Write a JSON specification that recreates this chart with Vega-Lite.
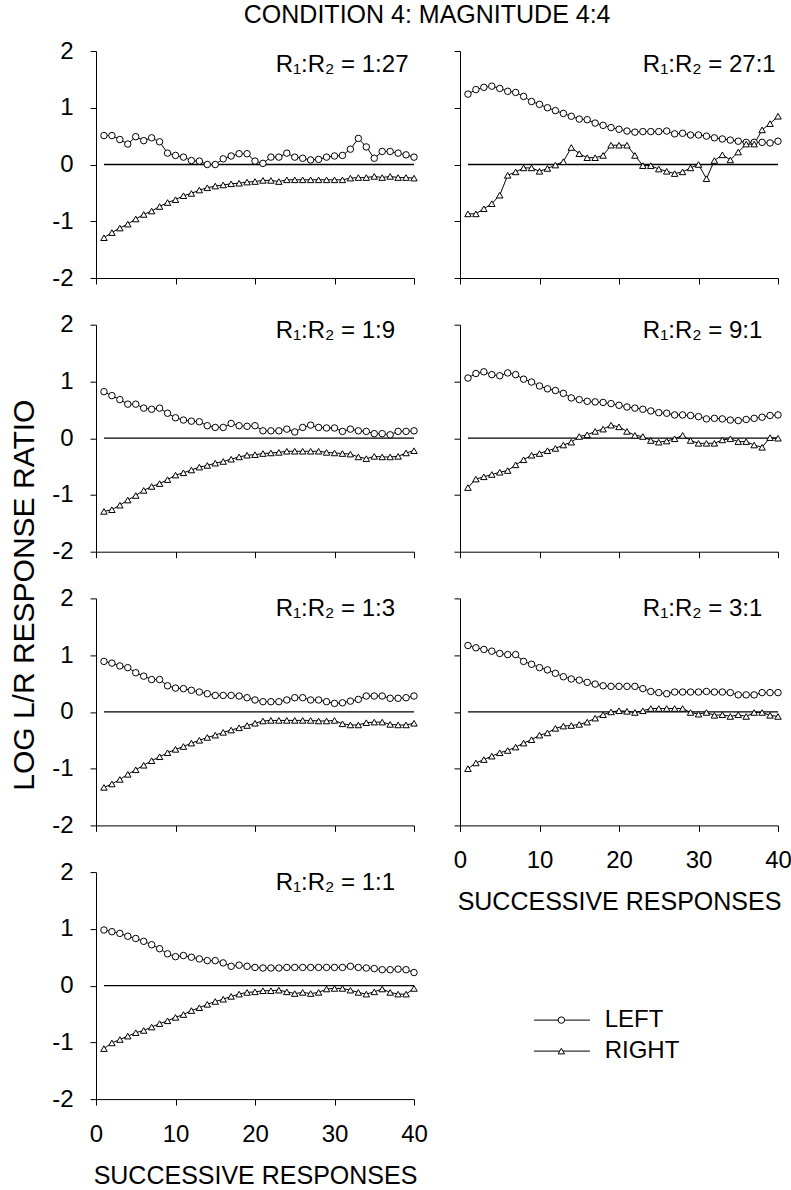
{
"$schema":"https://vega.github.io/schema/vega-lite/v6.json",
"padding":{"left":8,"top":3,"right":1,"bottom":1},
"title":{"text":"CONDITION 4: MAGNITUDE 4:4","fontSize":25,"fontWeight":"normal","color":"black","anchor":"middle","dx":27,"offset":11},
"config":{"font":"Liberation Sans","view":{"stroke":null},
 "axis":{"grid":false,"domainColor":"black","tickColor":"black","tickSize":6,"labelFontSize":24,"labelColor":"black","titleFontSize":25,"titleFontWeight":"normal","titleColor":"black","labelPadding":17,"domainWidth":1,"tickWidth":1,"labelFlush":false}},
"datasets":{"d":[
{"p":"1:27","s":"LEFT","x":1,"y":0.51},{"p":"1:27","s":"LEFT","x":2,"y":0.51},{"p":"1:27","s":"LEFT","x":3,"y":0.44},{"p":"1:27","s":"LEFT","x":4,"y":0.36},{"p":"1:27","s":"LEFT","x":5,"y":0.49},{"p":"1:27","s":"LEFT","x":6,"y":0.42},{"p":"1:27","s":"LEFT","x":7,"y":0.47},{"p":"1:27","s":"LEFT","x":8,"y":0.40},{"p":"1:27","s":"LEFT","x":9,"y":0.20},{"p":"1:27","s":"LEFT","x":10,"y":0.16},
{"p":"1:27","s":"LEFT","x":11,"y":0.13},{"p":"1:27","s":"LEFT","x":12,"y":0.07},{"p":"1:27","s":"LEFT","x":13,"y":0.06},{"p":"1:27","s":"LEFT","x":14,"y":0.0},{"p":"1:27","s":"LEFT","x":15,"y":0.0},{"p":"1:27","s":"LEFT","x":16,"y":0.10},{"p":"1:27","s":"LEFT","x":17,"y":0.15},{"p":"1:27","s":"LEFT","x":18,"y":0.19},{"p":"1:27","s":"LEFT","x":19,"y":0.19},{"p":"1:27","s":"LEFT","x":20,"y":0.06},
{"p":"1:27","s":"LEFT","x":21,"y":0.02},{"p":"1:27","s":"LEFT","x":22,"y":0.13},{"p":"1:27","s":"LEFT","x":23,"y":0.13},{"p":"1:27","s":"LEFT","x":24,"y":0.20},{"p":"1:27","s":"LEFT","x":25,"y":0.13},{"p":"1:27","s":"LEFT","x":26,"y":0.11},{"p":"1:27","s":"LEFT","x":27,"y":0.08},{"p":"1:27","s":"LEFT","x":28,"y":0.09},{"p":"1:27","s":"LEFT","x":29,"y":0.13},{"p":"1:27","s":"LEFT","x":30,"y":0.15},
{"p":"1:27","s":"LEFT","x":31,"y":0.16},{"p":"1:27","s":"LEFT","x":32,"y":0.27},{"p":"1:27","s":"LEFT","x":33,"y":0.46},{"p":"1:27","s":"LEFT","x":34,"y":0.31},{"p":"1:27","s":"LEFT","x":35,"y":0.11},{"p":"1:27","s":"LEFT","x":36,"y":0.23},{"p":"1:27","s":"LEFT","x":37,"y":0.23},{"p":"1:27","s":"LEFT","x":38,"y":0.20},{"p":"1:27","s":"LEFT","x":39,"y":0.17},{"p":"1:27","s":"LEFT","x":40,"y":0.13},
{"p":"1:27","s":"RIGHT","x":1,"y":-1.29},{"p":"1:27","s":"RIGHT","x":2,"y":-1.20},{"p":"1:27","s":"RIGHT","x":3,"y":-1.12},{"p":"1:27","s":"RIGHT","x":4,"y":-1.05},{"p":"1:27","s":"RIGHT","x":5,"y":-0.96},{"p":"1:27","s":"RIGHT","x":6,"y":-0.88},{"p":"1:27","s":"RIGHT","x":7,"y":-0.82},{"p":"1:27","s":"RIGHT","x":8,"y":-0.74},{"p":"1:27","s":"RIGHT","x":9,"y":-0.67},{"p":"1:27","s":"RIGHT","x":10,"y":-0.62},
{"p":"1:27","s":"RIGHT","x":11,"y":-0.55},{"p":"1:27","s":"RIGHT","x":12,"y":-0.51},{"p":"1:27","s":"RIGHT","x":13,"y":-0.45},{"p":"1:27","s":"RIGHT","x":14,"y":-0.41},{"p":"1:27","s":"RIGHT","x":15,"y":-0.38},{"p":"1:27","s":"RIGHT","x":16,"y":-0.36},{"p":"1:27","s":"RIGHT","x":17,"y":-0.34},{"p":"1:27","s":"RIGHT","x":18,"y":-0.33},{"p":"1:27","s":"RIGHT","x":19,"y":-0.31},{"p":"1:27","s":"RIGHT","x":20,"y":-0.30},
{"p":"1:27","s":"RIGHT","x":21,"y":-0.28},{"p":"1:27","s":"RIGHT","x":22,"y":-0.28},{"p":"1:27","s":"RIGHT","x":23,"y":-0.30},{"p":"1:27","s":"RIGHT","x":24,"y":-0.27},{"p":"1:27","s":"RIGHT","x":25,"y":-0.27},{"p":"1:27","s":"RIGHT","x":26,"y":-0.27},{"p":"1:27","s":"RIGHT","x":27,"y":-0.27},{"p":"1:27","s":"RIGHT","x":28,"y":-0.27},{"p":"1:27","s":"RIGHT","x":29,"y":-0.27},{"p":"1:27","s":"RIGHT","x":30,"y":-0.27},
{"p":"1:27","s":"RIGHT","x":31,"y":-0.27},{"p":"1:27","s":"RIGHT","x":32,"y":-0.24},{"p":"1:27","s":"RIGHT","x":33,"y":-0.23},{"p":"1:27","s":"RIGHT","x":34,"y":-0.23},{"p":"1:27","s":"RIGHT","x":35,"y":-0.21},{"p":"1:27","s":"RIGHT","x":36,"y":-0.23},{"p":"1:27","s":"RIGHT","x":37,"y":-0.21},{"p":"1:27","s":"RIGHT","x":38,"y":-0.23},{"p":"1:27","s":"RIGHT","x":39,"y":-0.23},{"p":"1:27","s":"RIGHT","x":40,"y":-0.24},

{"p":"27:1","s":"LEFT","x":1,"y":1.24},{"p":"27:1","s":"LEFT","x":2,"y":1.32},{"p":"27:1","s":"LEFT","x":3,"y":1.36},{"p":"27:1","s":"LEFT","x":4,"y":1.38},{"p":"27:1","s":"LEFT","x":5,"y":1.34},{"p":"27:1","s":"LEFT","x":6,"y":1.29},{"p":"27:1","s":"LEFT","x":7,"y":1.27},{"p":"27:1","s":"LEFT","x":8,"y":1.20},{"p":"27:1","s":"LEFT","x":9,"y":1.11},{"p":"27:1","s":"LEFT","x":10,"y":1.06},
{"p":"27:1","s":"LEFT","x":11,"y":1.00},{"p":"27:1","s":"LEFT","x":12,"y":0.95},{"p":"27:1","s":"LEFT","x":13,"y":0.90},{"p":"27:1","s":"LEFT","x":14,"y":0.85},{"p":"27:1","s":"LEFT","x":15,"y":0.80},{"p":"27:1","s":"LEFT","x":16,"y":0.79},{"p":"27:1","s":"LEFT","x":17,"y":0.73},{"p":"27:1","s":"LEFT","x":18,"y":0.69},{"p":"27:1","s":"LEFT","x":19,"y":0.65},{"p":"27:1","s":"LEFT","x":20,"y":0.62},
{"p":"27:1","s":"LEFT","x":21,"y":0.59},{"p":"27:1","s":"LEFT","x":22,"y":0.57},{"p":"27:1","s":"LEFT","x":23,"y":0.58},{"p":"27:1","s":"LEFT","x":24,"y":0.58},{"p":"27:1","s":"LEFT","x":25,"y":0.58},{"p":"27:1","s":"LEFT","x":26,"y":0.59},{"p":"27:1","s":"LEFT","x":27,"y":0.54},{"p":"27:1","s":"LEFT","x":28,"y":0.55},{"p":"27:1","s":"LEFT","x":29,"y":0.52},{"p":"27:1","s":"LEFT","x":30,"y":0.52},
{"p":"27:1","s":"LEFT","x":31,"y":0.50},{"p":"27:1","s":"LEFT","x":32,"y":0.47},{"p":"27:1","s":"LEFT","x":33,"y":0.45},{"p":"27:1","s":"LEFT","x":34,"y":0.43},{"p":"27:1","s":"LEFT","x":35,"y":0.41},{"p":"27:1","s":"LEFT","x":36,"y":0.39},{"p":"27:1","s":"LEFT","x":37,"y":0.39},{"p":"27:1","s":"LEFT","x":38,"y":0.39},{"p":"27:1","s":"LEFT","x":39,"y":0.38},{"p":"27:1","s":"LEFT","x":40,"y":0.41},
{"p":"27:1","s":"RIGHT","x":1,"y":-0.87},{"p":"27:1","s":"RIGHT","x":2,"y":-0.87},{"p":"27:1","s":"RIGHT","x":3,"y":-0.78},{"p":"27:1","s":"RIGHT","x":4,"y":-0.69},{"p":"27:1","s":"RIGHT","x":5,"y":-0.54},{"p":"27:1","s":"RIGHT","x":6,"y":-0.19},{"p":"27:1","s":"RIGHT","x":7,"y":-0.13},{"p":"27:1","s":"RIGHT","x":8,"y":-0.06},{"p":"27:1","s":"RIGHT","x":9,"y":-0.06},{"p":"27:1","s":"RIGHT","x":10,"y":-0.12},
{"p":"27:1","s":"RIGHT","x":11,"y":-0.07},{"p":"27:1","s":"RIGHT","x":12,"y":-0.01},{"p":"27:1","s":"RIGHT","x":13,"y":0.05},{"p":"27:1","s":"RIGHT","x":14,"y":0.30},{"p":"27:1","s":"RIGHT","x":15,"y":0.19},{"p":"27:1","s":"RIGHT","x":16,"y":0.12},{"p":"27:1","s":"RIGHT","x":17,"y":0.12},{"p":"27:1","s":"RIGHT","x":18,"y":0.16},{"p":"27:1","s":"RIGHT","x":19,"y":0.34},{"p":"27:1","s":"RIGHT","x":20,"y":0.34},
{"p":"27:1","s":"RIGHT","x":21,"y":0.34},{"p":"27:1","s":"RIGHT","x":22,"y":0.16},{"p":"27:1","s":"RIGHT","x":23,"y":-0.02},{"p":"27:1","s":"RIGHT","x":24,"y":-0.02},{"p":"27:1","s":"RIGHT","x":25,"y":-0.08},{"p":"27:1","s":"RIGHT","x":26,"y":-0.12},{"p":"27:1","s":"RIGHT","x":27,"y":-0.16},{"p":"27:1","s":"RIGHT","x":28,"y":-0.13},{"p":"27:1","s":"RIGHT","x":29,"y":-0.06},{"p":"27:1","s":"RIGHT","x":30,"y":0.0},
{"p":"27:1","s":"RIGHT","x":31,"y":-0.25},{"p":"27:1","s":"RIGHT","x":32,"y":0.07},{"p":"27:1","s":"RIGHT","x":33,"y":0.17},{"p":"27:1","s":"RIGHT","x":34,"y":0.08},{"p":"27:1","s":"RIGHT","x":35,"y":0.22},{"p":"27:1","s":"RIGHT","x":36,"y":0.36},{"p":"27:1","s":"RIGHT","x":37,"y":0.36},{"p":"27:1","s":"RIGHT","x":38,"y":0.61},{"p":"27:1","s":"RIGHT","x":39,"y":0.72},{"p":"27:1","s":"RIGHT","x":40,"y":0.85},

{"p":"1:9","s":"LEFT","x":1,"y":0.82},{"p":"1:9","s":"LEFT","x":2,"y":0.75},{"p":"1:9","s":"LEFT","x":3,"y":0.68},{"p":"1:9","s":"LEFT","x":4,"y":0.60},{"p":"1:9","s":"LEFT","x":5,"y":0.60},{"p":"1:9","s":"LEFT","x":6,"y":0.53},{"p":"1:9","s":"LEFT","x":7,"y":0.51},{"p":"1:9","s":"LEFT","x":8,"y":0.53},{"p":"1:9","s":"LEFT","x":9,"y":0.44},{"p":"1:9","s":"LEFT","x":10,"y":0.36},
{"p":"1:9","s":"LEFT","x":11,"y":0.32},{"p":"1:9","s":"LEFT","x":12,"y":0.30},{"p":"1:9","s":"LEFT","x":13,"y":0.29},{"p":"1:9","s":"LEFT","x":14,"y":0.22},{"p":"1:9","s":"LEFT","x":15,"y":0.19},{"p":"1:9","s":"LEFT","x":16,"y":0.19},{"p":"1:9","s":"LEFT","x":17,"y":0.26},{"p":"1:9","s":"LEFT","x":18,"y":0.22},{"p":"1:9","s":"LEFT","x":19,"y":0.21},{"p":"1:9","s":"LEFT","x":20,"y":0.22},
{"p":"1:9","s":"LEFT","x":21,"y":0.13},{"p":"1:9","s":"LEFT","x":22,"y":0.13},{"p":"1:9","s":"LEFT","x":23,"y":0.13},{"p":"1:9","s":"LEFT","x":24,"y":0.16},{"p":"1:9","s":"LEFT","x":25,"y":0.11},{"p":"1:9","s":"LEFT","x":26,"y":0.19},{"p":"1:9","s":"LEFT","x":27,"y":0.23},{"p":"1:9","s":"LEFT","x":28,"y":0.19},{"p":"1:9","s":"LEFT","x":29,"y":0.18},{"p":"1:9","s":"LEFT","x":30,"y":0.18},
{"p":"1:9","s":"LEFT","x":31,"y":0.12},{"p":"1:9","s":"LEFT","x":32,"y":0.16},{"p":"1:9","s":"LEFT","x":33,"y":0.13},{"p":"1:9","s":"LEFT","x":34,"y":0.12},{"p":"1:9","s":"LEFT","x":35,"y":0.08},{"p":"1:9","s":"LEFT","x":36,"y":0.08},{"p":"1:9","s":"LEFT","x":37,"y":0.06},{"p":"1:9","s":"LEFT","x":38,"y":0.12},{"p":"1:9","s":"LEFT","x":39,"y":0.12},{"p":"1:9","s":"LEFT","x":40,"y":0.13},
{"p":"1:9","s":"RIGHT","x":1,"y":-1.29},{"p":"1:9","s":"RIGHT","x":2,"y":-1.26},{"p":"1:9","s":"RIGHT","x":3,"y":-1.18},{"p":"1:9","s":"RIGHT","x":4,"y":-1.09},{"p":"1:9","s":"RIGHT","x":5,"y":-1.01},{"p":"1:9","s":"RIGHT","x":6,"y":-0.92},{"p":"1:9","s":"RIGHT","x":7,"y":-0.85},{"p":"1:9","s":"RIGHT","x":8,"y":-0.80},{"p":"1:9","s":"RIGHT","x":9,"y":-0.73},{"p":"1:9","s":"RIGHT","x":10,"y":-0.65},
{"p":"1:9","s":"RIGHT","x":11,"y":-0.61},{"p":"1:9","s":"RIGHT","x":12,"y":-0.56},{"p":"1:9","s":"RIGHT","x":13,"y":-0.51},{"p":"1:9","s":"RIGHT","x":14,"y":-0.48},{"p":"1:9","s":"RIGHT","x":15,"y":-0.44},{"p":"1:9","s":"RIGHT","x":16,"y":-0.41},{"p":"1:9","s":"RIGHT","x":17,"y":-0.37},{"p":"1:9","s":"RIGHT","x":18,"y":-0.33},{"p":"1:9","s":"RIGHT","x":19,"y":-0.30},{"p":"1:9","s":"RIGHT","x":20,"y":-0.29},
{"p":"1:9","s":"RIGHT","x":21,"y":-0.27},{"p":"1:9","s":"RIGHT","x":22,"y":-0.26},{"p":"1:9","s":"RIGHT","x":23,"y":-0.25},{"p":"1:9","s":"RIGHT","x":24,"y":-0.23},{"p":"1:9","s":"RIGHT","x":25,"y":-0.23},{"p":"1:9","s":"RIGHT","x":26,"y":-0.23},{"p":"1:9","s":"RIGHT","x":27,"y":-0.23},{"p":"1:9","s":"RIGHT","x":28,"y":-0.23},{"p":"1:9","s":"RIGHT","x":29,"y":-0.25},{"p":"1:9","s":"RIGHT","x":30,"y":-0.26},
{"p":"1:9","s":"RIGHT","x":31,"y":-0.27},{"p":"1:9","s":"RIGHT","x":32,"y":-0.28},{"p":"1:9","s":"RIGHT","x":33,"y":-0.33},{"p":"1:9","s":"RIGHT","x":34,"y":-0.36},{"p":"1:9","s":"RIGHT","x":35,"y":-0.32},{"p":"1:9","s":"RIGHT","x":36,"y":-0.33},{"p":"1:9","s":"RIGHT","x":37,"y":-0.33},{"p":"1:9","s":"RIGHT","x":38,"y":-0.32},{"p":"1:9","s":"RIGHT","x":39,"y":-0.26},{"p":"1:9","s":"RIGHT","x":40,"y":-0.22},

{"p":"9:1","s":"LEFT","x":1,"y":1.06},{"p":"9:1","s":"LEFT","x":2,"y":1.14},{"p":"9:1","s":"LEFT","x":3,"y":1.17},{"p":"9:1","s":"LEFT","x":4,"y":1.12},{"p":"9:1","s":"LEFT","x":5,"y":1.10},{"p":"9:1","s":"LEFT","x":6,"y":1.15},{"p":"9:1","s":"LEFT","x":7,"y":1.12},{"p":"9:1","s":"LEFT","x":8,"y":1.04},{"p":"9:1","s":"LEFT","x":9,"y":0.99},{"p":"9:1","s":"LEFT","x":10,"y":0.92},
{"p":"9:1","s":"LEFT","x":11,"y":0.87},{"p":"9:1","s":"LEFT","x":12,"y":0.84},{"p":"9:1","s":"LEFT","x":13,"y":0.79},{"p":"9:1","s":"LEFT","x":14,"y":0.71},{"p":"9:1","s":"LEFT","x":15,"y":0.68},{"p":"9:1","s":"LEFT","x":16,"y":0.65},{"p":"9:1","s":"LEFT","x":17,"y":0.64},{"p":"9:1","s":"LEFT","x":18,"y":0.63},{"p":"9:1","s":"LEFT","x":19,"y":0.61},{"p":"9:1","s":"LEFT","x":20,"y":0.58},
{"p":"9:1","s":"LEFT","x":21,"y":0.55},{"p":"9:1","s":"LEFT","x":22,"y":0.53},{"p":"9:1","s":"LEFT","x":23,"y":0.51},{"p":"9:1","s":"LEFT","x":24,"y":0.48},{"p":"9:1","s":"LEFT","x":25,"y":0.45},{"p":"9:1","s":"LEFT","x":26,"y":0.44},{"p":"9:1","s":"LEFT","x":27,"y":0.41},{"p":"9:1","s":"LEFT","x":28,"y":0.41},{"p":"9:1","s":"LEFT","x":29,"y":0.40},{"p":"9:1","s":"LEFT","x":30,"y":0.38},
{"p":"9:1","s":"LEFT","x":31,"y":0.34},{"p":"9:1","s":"LEFT","x":32,"y":0.35},{"p":"9:1","s":"LEFT","x":33,"y":0.34},{"p":"9:1","s":"LEFT","x":34,"y":0.32},{"p":"9:1","s":"LEFT","x":35,"y":0.31},{"p":"9:1","s":"LEFT","x":36,"y":0.33},{"p":"9:1","s":"LEFT","x":37,"y":0.35},{"p":"9:1","s":"LEFT","x":38,"y":0.37},{"p":"9:1","s":"LEFT","x":39,"y":0.40},{"p":"9:1","s":"LEFT","x":40,"y":0.41},
{"p":"9:1","s":"RIGHT","x":1,"y":-0.87},{"p":"9:1","s":"RIGHT","x":2,"y":-0.72},{"p":"9:1","s":"RIGHT","x":3,"y":-0.68},{"p":"9:1","s":"RIGHT","x":4,"y":-0.64},{"p":"9:1","s":"RIGHT","x":5,"y":-0.60},{"p":"9:1","s":"RIGHT","x":6,"y":-0.57},{"p":"9:1","s":"RIGHT","x":7,"y":-0.47},{"p":"9:1","s":"RIGHT","x":8,"y":-0.38},{"p":"9:1","s":"RIGHT","x":9,"y":-0.30},{"p":"9:1","s":"RIGHT","x":10,"y":-0.27},
{"p":"9:1","s":"RIGHT","x":11,"y":-0.22},{"p":"9:1","s":"RIGHT","x":12,"y":-0.18},{"p":"9:1","s":"RIGHT","x":13,"y":-0.12},{"p":"9:1","s":"RIGHT","x":14,"y":-0.07},{"p":"9:1","s":"RIGHT","x":15,"y":0.03},{"p":"9:1","s":"RIGHT","x":16,"y":0.06},{"p":"9:1","s":"RIGHT","x":17,"y":0.12},{"p":"9:1","s":"RIGHT","x":18,"y":0.16},{"p":"9:1","s":"RIGHT","x":19,"y":0.23},{"p":"9:1","s":"RIGHT","x":20,"y":0.20},
{"p":"9:1","s":"RIGHT","x":21,"y":0.12},{"p":"9:1","s":"RIGHT","x":22,"y":0.05},{"p":"9:1","s":"RIGHT","x":23,"y":0.03},{"p":"9:1","s":"RIGHT","x":24,"y":-0.04},{"p":"9:1","s":"RIGHT","x":25,"y":-0.07},{"p":"9:1","s":"RIGHT","x":26,"y":-0.05},{"p":"9:1","s":"RIGHT","x":27,"y":-0.01},{"p":"9:1","s":"RIGHT","x":28,"y":0.05},{"p":"9:1","s":"RIGHT","x":29,"y":-0.04},{"p":"9:1","s":"RIGHT","x":30,"y":-0.09},
{"p":"9:1","s":"RIGHT","x":31,"y":-0.09},{"p":"9:1","s":"RIGHT","x":32,"y":-0.09},{"p":"9:1","s":"RIGHT","x":33,"y":-0.03},{"p":"9:1","s":"RIGHT","x":34,"y":-0.01},{"p":"9:1","s":"RIGHT","x":35,"y":-0.06},{"p":"9:1","s":"RIGHT","x":36,"y":-0.06},{"p":"9:1","s":"RIGHT","x":37,"y":-0.12},{"p":"9:1","s":"RIGHT","x":38,"y":-0.16},{"p":"9:1","s":"RIGHT","x":39,"y":0.01},{"p":"9:1","s":"RIGHT","x":40,"y":0.0},

{"p":"1:3","s":"LEFT","x":1,"y":0.89},{"p":"1:3","s":"LEFT","x":2,"y":0.86},{"p":"1:3","s":"LEFT","x":3,"y":0.81},{"p":"1:3","s":"LEFT","x":4,"y":0.78},{"p":"1:3","s":"LEFT","x":5,"y":0.69},{"p":"1:3","s":"LEFT","x":6,"y":0.63},{"p":"1:3","s":"LEFT","x":7,"y":0.57},{"p":"1:3","s":"LEFT","x":8,"y":0.57},{"p":"1:3","s":"LEFT","x":9,"y":0.46},{"p":"1:3","s":"LEFT","x":10,"y":0.42},
{"p":"1:3","s":"LEFT","x":11,"y":0.41},{"p":"1:3","s":"LEFT","x":12,"y":0.38},{"p":"1:3","s":"LEFT","x":13,"y":0.35},{"p":"1:3","s":"LEFT","x":14,"y":0.32},{"p":"1:3","s":"LEFT","x":15,"y":0.29},{"p":"1:3","s":"LEFT","x":16,"y":0.29},{"p":"1:3","s":"LEFT","x":17,"y":0.29},{"p":"1:3","s":"LEFT","x":18,"y":0.28},{"p":"1:3","s":"LEFT","x":19,"y":0.25},{"p":"1:3","s":"LEFT","x":20,"y":0.21},
{"p":"1:3","s":"LEFT","x":21,"y":0.18},{"p":"1:3","s":"LEFT","x":22,"y":0.18},{"p":"1:3","s":"LEFT","x":23,"y":0.18},{"p":"1:3","s":"LEFT","x":24,"y":0.21},{"p":"1:3","s":"LEFT","x":25,"y":0.25},{"p":"1:3","s":"LEFT","x":26,"y":0.25},{"p":"1:3","s":"LEFT","x":27,"y":0.21},{"p":"1:3","s":"LEFT","x":28,"y":0.21},{"p":"1:3","s":"LEFT","x":29,"y":0.18},{"p":"1:3","s":"LEFT","x":30,"y":0.15},
{"p":"1:3","s":"LEFT","x":31,"y":0.16},{"p":"1:3","s":"LEFT","x":32,"y":0.19},{"p":"1:3","s":"LEFT","x":33,"y":0.22},{"p":"1:3","s":"LEFT","x":34,"y":0.28},{"p":"1:3","s":"LEFT","x":35,"y":0.28},{"p":"1:3","s":"LEFT","x":36,"y":0.28},{"p":"1:3","s":"LEFT","x":37,"y":0.24},{"p":"1:3","s":"LEFT","x":38,"y":0.24},{"p":"1:3","s":"LEFT","x":39,"y":0.25},{"p":"1:3","s":"LEFT","x":40,"y":0.28},
{"p":"1:3","s":"RIGHT","x":1,"y":-1.33},{"p":"1:3","s":"RIGHT","x":2,"y":-1.27},{"p":"1:3","s":"RIGHT","x":3,"y":-1.19},{"p":"1:3","s":"RIGHT","x":4,"y":-1.10},{"p":"1:3","s":"RIGHT","x":5,"y":-1.02},{"p":"1:3","s":"RIGHT","x":6,"y":-0.94},{"p":"1:3","s":"RIGHT","x":7,"y":-0.86},{"p":"1:3","s":"RIGHT","x":8,"y":-0.79},{"p":"1:3","s":"RIGHT","x":9,"y":-0.72},{"p":"1:3","s":"RIGHT","x":10,"y":-0.66},
{"p":"1:3","s":"RIGHT","x":11,"y":-0.61},{"p":"1:3","s":"RIGHT","x":12,"y":-0.55},{"p":"1:3","s":"RIGHT","x":13,"y":-0.50},{"p":"1:3","s":"RIGHT","x":14,"y":-0.45},{"p":"1:3","s":"RIGHT","x":15,"y":-0.41},{"p":"1:3","s":"RIGHT","x":16,"y":-0.36},{"p":"1:3","s":"RIGHT","x":17,"y":-0.32},{"p":"1:3","s":"RIGHT","x":18,"y":-0.28},{"p":"1:3","s":"RIGHT","x":19,"y":-0.24},{"p":"1:3","s":"RIGHT","x":20,"y":-0.20},
{"p":"1:3","s":"RIGHT","x":21,"y":-0.16},{"p":"1:3","s":"RIGHT","x":22,"y":-0.15},{"p":"1:3","s":"RIGHT","x":23,"y":-0.15},{"p":"1:3","s":"RIGHT","x":24,"y":-0.15},{"p":"1:3","s":"RIGHT","x":25,"y":-0.15},{"p":"1:3","s":"RIGHT","x":26,"y":-0.15},{"p":"1:3","s":"RIGHT","x":27,"y":-0.15},{"p":"1:3","s":"RIGHT","x":28,"y":-0.16},{"p":"1:3","s":"RIGHT","x":29,"y":-0.16},{"p":"1:3","s":"RIGHT","x":30,"y":-0.15},
{"p":"1:3","s":"RIGHT","x":31,"y":-0.21},{"p":"1:3","s":"RIGHT","x":32,"y":-0.23},{"p":"1:3","s":"RIGHT","x":33,"y":-0.23},{"p":"1:3","s":"RIGHT","x":34,"y":-0.19},{"p":"1:3","s":"RIGHT","x":35,"y":-0.18},{"p":"1:3","s":"RIGHT","x":36,"y":-0.18},{"p":"1:3","s":"RIGHT","x":37,"y":-0.22},{"p":"1:3","s":"RIGHT","x":38,"y":-0.23},{"p":"1:3","s":"RIGHT","x":39,"y":-0.23},{"p":"1:3","s":"RIGHT","x":40,"y":-0.20},

{"p":"3:1","s":"LEFT","x":1,"y":1.17},{"p":"3:1","s":"LEFT","x":2,"y":1.13},{"p":"3:1","s":"LEFT","x":3,"y":1.10},{"p":"3:1","s":"LEFT","x":4,"y":1.07},{"p":"3:1","s":"LEFT","x":5,"y":1.03},{"p":"3:1","s":"LEFT","x":6,"y":1.01},{"p":"3:1","s":"LEFT","x":7,"y":1.01},{"p":"3:1","s":"LEFT","x":8,"y":0.89},{"p":"3:1","s":"LEFT","x":9,"y":0.84},{"p":"3:1","s":"LEFT","x":10,"y":0.78},
{"p":"3:1","s":"LEFT","x":11,"y":0.74},{"p":"3:1","s":"LEFT","x":12,"y":0.68},{"p":"3:1","s":"LEFT","x":13,"y":0.62},{"p":"3:1","s":"LEFT","x":14,"y":0.58},{"p":"3:1","s":"LEFT","x":15,"y":0.56},{"p":"3:1","s":"LEFT","x":16,"y":0.52},{"p":"3:1","s":"LEFT","x":17,"y":0.49},{"p":"3:1","s":"LEFT","x":18,"y":0.46},{"p":"3:1","s":"LEFT","x":19,"y":0.45},{"p":"3:1","s":"LEFT","x":20,"y":0.45},
{"p":"3:1","s":"LEFT","x":21,"y":0.45},{"p":"3:1","s":"LEFT","x":22,"y":0.45},{"p":"3:1","s":"LEFT","x":23,"y":0.41},{"p":"3:1","s":"LEFT","x":24,"y":0.36},{"p":"3:1","s":"LEFT","x":25,"y":0.34},{"p":"3:1","s":"LEFT","x":26,"y":0.32},{"p":"3:1","s":"LEFT","x":27,"y":0.35},{"p":"3:1","s":"LEFT","x":28,"y":0.35},{"p":"3:1","s":"LEFT","x":29,"y":0.35},{"p":"3:1","s":"LEFT","x":30,"y":0.35},
{"p":"3:1","s":"LEFT","x":31,"y":0.36},{"p":"3:1","s":"LEFT","x":32,"y":0.35},{"p":"3:1","s":"LEFT","x":33,"y":0.35},{"p":"3:1","s":"LEFT","x":34,"y":0.34},{"p":"3:1","s":"LEFT","x":35,"y":0.30},{"p":"3:1","s":"LEFT","x":36,"y":0.30},{"p":"3:1","s":"LEFT","x":37,"y":0.30},{"p":"3:1","s":"LEFT","x":38,"y":0.34},{"p":"3:1","s":"LEFT","x":39,"y":0.34},{"p":"3:1","s":"LEFT","x":40,"y":0.34},
{"p":"3:1","s":"RIGHT","x":1,"y":-1.00},{"p":"3:1","s":"RIGHT","x":2,"y":-0.90},{"p":"3:1","s":"RIGHT","x":3,"y":-0.84},{"p":"3:1","s":"RIGHT","x":4,"y":-0.78},{"p":"3:1","s":"RIGHT","x":5,"y":-0.72},{"p":"3:1","s":"RIGHT","x":6,"y":-0.68},{"p":"3:1","s":"RIGHT","x":7,"y":-0.62},{"p":"3:1","s":"RIGHT","x":8,"y":-0.55},{"p":"3:1","s":"RIGHT","x":9,"y":-0.49},{"p":"3:1","s":"RIGHT","x":10,"y":-0.41},
{"p":"3:1","s":"RIGHT","x":11,"y":-0.37},{"p":"3:1","s":"RIGHT","x":12,"y":-0.29},{"p":"3:1","s":"RIGHT","x":13,"y":-0.25},{"p":"3:1","s":"RIGHT","x":14,"y":-0.24},{"p":"3:1","s":"RIGHT","x":15,"y":-0.22},{"p":"3:1","s":"RIGHT","x":16,"y":-0.18},{"p":"3:1","s":"RIGHT","x":17,"y":-0.11},{"p":"3:1","s":"RIGHT","x":18,"y":-0.05},{"p":"3:1","s":"RIGHT","x":19,"y":0.0},{"p":"3:1","s":"RIGHT","x":20,"y":0.02},
{"p":"3:1","s":"RIGHT","x":21,"y":0.01},{"p":"3:1","s":"RIGHT","x":22,"y":-0.01},{"p":"3:1","s":"RIGHT","x":23,"y":0.02},{"p":"3:1","s":"RIGHT","x":24,"y":0.06},{"p":"3:1","s":"RIGHT","x":25,"y":0.06},{"p":"3:1","s":"RIGHT","x":26,"y":0.06},{"p":"3:1","s":"RIGHT","x":27,"y":0.06},{"p":"3:1","s":"RIGHT","x":28,"y":0.06},{"p":"3:1","s":"RIGHT","x":29,"y":-0.01},{"p":"3:1","s":"RIGHT","x":30,"y":-0.04},
{"p":"3:1","s":"RIGHT","x":31,"y":-0.01},{"p":"3:1","s":"RIGHT","x":32,"y":-0.06},{"p":"3:1","s":"RIGHT","x":33,"y":-0.05},{"p":"3:1","s":"RIGHT","x":34,"y":-0.08},{"p":"3:1","s":"RIGHT","x":35,"y":-0.05},{"p":"3:1","s":"RIGHT","x":36,"y":-0.08},{"p":"3:1","s":"RIGHT","x":37,"y":-0.01},{"p":"3:1","s":"RIGHT","x":38,"y":-0.01},{"p":"3:1","s":"RIGHT","x":39,"y":-0.06},{"p":"3:1","s":"RIGHT","x":40,"y":-0.08},

{"p":"1:1","s":"LEFT","x":1,"y":0.98},{"p":"1:1","s":"LEFT","x":2,"y":0.95},{"p":"1:1","s":"LEFT","x":3,"y":0.92},{"p":"1:1","s":"LEFT","x":4,"y":0.87},{"p":"1:1","s":"LEFT","x":5,"y":0.83},{"p":"1:1","s":"LEFT","x":6,"y":0.78},{"p":"1:1","s":"LEFT","x":7,"y":0.72},{"p":"1:1","s":"LEFT","x":8,"y":0.65},{"p":"1:1","s":"LEFT","x":9,"y":0.56},{"p":"1:1","s":"LEFT","x":10,"y":0.51},
{"p":"1:1","s":"LEFT","x":11,"y":0.53},{"p":"1:1","s":"LEFT","x":12,"y":0.50},{"p":"1:1","s":"LEFT","x":13,"y":0.47},{"p":"1:1","s":"LEFT","x":14,"y":0.44},{"p":"1:1","s":"LEFT","x":15,"y":0.44},{"p":"1:1","s":"LEFT","x":16,"y":0.40},{"p":"1:1","s":"LEFT","x":17,"y":0.34},{"p":"1:1","s":"LEFT","x":18,"y":0.36},{"p":"1:1","s":"LEFT","x":19,"y":0.34},{"p":"1:1","s":"LEFT","x":20,"y":0.32},
{"p":"1:1","s":"LEFT","x":21,"y":0.31},{"p":"1:1","s":"LEFT","x":22,"y":0.31},{"p":"1:1","s":"LEFT","x":23,"y":0.31},{"p":"1:1","s":"LEFT","x":24,"y":0.32},{"p":"1:1","s":"LEFT","x":25,"y":0.32},{"p":"1:1","s":"LEFT","x":26,"y":0.32},{"p":"1:1","s":"LEFT","x":27,"y":0.32},{"p":"1:1","s":"LEFT","x":28,"y":0.32},{"p":"1:1","s":"LEFT","x":29,"y":0.32},{"p":"1:1","s":"LEFT","x":30,"y":0.32},
{"p":"1:1","s":"LEFT","x":31,"y":0.32},{"p":"1:1","s":"LEFT","x":32,"y":0.34},{"p":"1:1","s":"LEFT","x":33,"y":0.32},{"p":"1:1","s":"LEFT","x":34,"y":0.31},{"p":"1:1","s":"LEFT","x":35,"y":0.30},{"p":"1:1","s":"LEFT","x":36,"y":0.28},{"p":"1:1","s":"LEFT","x":37,"y":0.28},{"p":"1:1","s":"LEFT","x":38,"y":0.29},{"p":"1:1","s":"LEFT","x":39,"y":0.28},{"p":"1:1","s":"LEFT","x":40,"y":0.23},
{"p":"1:1","s":"RIGHT","x":1,"y":-1.11},{"p":"1:1","s":"RIGHT","x":2,"y":-1.01},{"p":"1:1","s":"RIGHT","x":3,"y":-0.95},{"p":"1:1","s":"RIGHT","x":4,"y":-0.89},{"p":"1:1","s":"RIGHT","x":5,"y":-0.83},{"p":"1:1","s":"RIGHT","x":6,"y":-0.79},{"p":"1:1","s":"RIGHT","x":7,"y":-0.73},{"p":"1:1","s":"RIGHT","x":8,"y":-0.67},{"p":"1:1","s":"RIGHT","x":9,"y":-0.62},{"p":"1:1","s":"RIGHT","x":10,"y":-0.56},
{"p":"1:1","s":"RIGHT","x":11,"y":-0.51},{"p":"1:1","s":"RIGHT","x":12,"y":-0.44},{"p":"1:1","s":"RIGHT","x":13,"y":-0.39},{"p":"1:1","s":"RIGHT","x":14,"y":-0.33},{"p":"1:1","s":"RIGHT","x":15,"y":-0.28},{"p":"1:1","s":"RIGHT","x":16,"y":-0.24},{"p":"1:1","s":"RIGHT","x":17,"y":-0.19},{"p":"1:1","s":"RIGHT","x":18,"y":-0.15},{"p":"1:1","s":"RIGHT","x":19,"y":-0.12},{"p":"1:1","s":"RIGHT","x":20,"y":-0.11},
{"p":"1:1","s":"RIGHT","x":21,"y":-0.09},{"p":"1:1","s":"RIGHT","x":22,"y":-0.09},{"p":"1:1","s":"RIGHT","x":23,"y":-0.08},{"p":"1:1","s":"RIGHT","x":24,"y":-0.11},{"p":"1:1","s":"RIGHT","x":25,"y":-0.14},{"p":"1:1","s":"RIGHT","x":26,"y":-0.12},{"p":"1:1","s":"RIGHT","x":27,"y":-0.14},{"p":"1:1","s":"RIGHT","x":28,"y":-0.12},{"p":"1:1","s":"RIGHT","x":29,"y":-0.06},{"p":"1:1","s":"RIGHT","x":30,"y":-0.05},
{"p":"1:1","s":"RIGHT","x":31,"y":-0.05},{"p":"1:1","s":"RIGHT","x":32,"y":-0.08},{"p":"1:1","s":"RIGHT","x":33,"y":-0.12},{"p":"1:1","s":"RIGHT","x":34,"y":-0.15},{"p":"1:1","s":"RIGHT","x":35,"y":-0.11},{"p":"1:1","s":"RIGHT","x":36,"y":-0.06},{"p":"1:1","s":"RIGHT","x":37,"y":-0.12},{"p":"1:1","s":"RIGHT","x":38,"y":-0.15},{"p":"1:1","s":"RIGHT","x":39,"y":-0.15},{"p":"1:1","s":"RIGHT","x":40,"y":-0.05}
]},
"spacing":25,
"hconcat":[
 {"bounds":"flush","spacing":46.7,"vconcat":[
  {"width":318,"height":227,"layer":[
   {"data":{"values":[{}]},"mark":{"type":"rule","color":"black","strokeWidth":1.3},"encoding":{"x":{"datum":1},"x2":{"datum":40},"y":{"datum":0}}},
   {"data":{"name":"d"},"transform":[{"filter":"datum.p === '1:27'"}],
    "encoding":{"x":{"field":"x","type":"quantitative","scale":{"domain":[0,40],"nice":false},"axis":{"values":[0,10,20,30,40],"labels":false,"title":null}},
                "y":{"field":"y","type":"quantitative","scale":{"domain":[-2,2],"nice":false},"axis":{"values":[-2,-1,0,1,2],"format":"d","title":null,"labelExpr":"replace(datum.label,'\u2212','-')"}}},
    "layer":[
     {"mark":{"type":"line","color":"black","strokeWidth":1},"encoding":{"detail":{"field":"s"}}},
     {"mark":{"type":"point","filled":true,"fill":"white","stroke":"black","strokeWidth":1,"opacity":1,"size":42},"encoding":{"shape":{"field":"s","type":"nominal","scale":{"domain":["LEFT","RIGHT"],"range":["circle","triangle-up"]},"legend":null}}}
    ]},
   {"data":{"values":[{"t":"R₁:R₂ = 1:27"}]},"mark":{"type":"text","align":"left","baseline":"alphabetic","fontSize":24,"color":"black"},"encoding":{"x":{"datum":22.6},"y":{"datum":1.63},"text":{"field":"t"}}}
  ]},
  {"width":318,"height":227,"layer":[
   {"data":{"values":[{}]},"mark":{"type":"rule","color":"black","strokeWidth":1.3},"encoding":{"x":{"datum":1},"x2":{"datum":40},"y":{"datum":0}}},
   {"data":{"name":"d"},"transform":[{"filter":"datum.p === '1:9'"}],
    "encoding":{"x":{"field":"x","type":"quantitative","scale":{"domain":[0,40],"nice":false},"axis":{"values":[0,10,20,30,40],"labels":false,"title":null}},
                "y":{"field":"y","type":"quantitative","scale":{"domain":[-2,2],"nice":false},"axis":{"values":[-2,-1,0,1,2],"format":"d","title":"LOG L/R RESPONSE RATIO","titleFontSize":30,"titleX":-72,"titleY":270,"titleAngle":270,"titleAlign":"center","titleBaseline":"middle","labelExpr":"replace(datum.label,'\u2212','-')"}}},
    "layer":[
     {"mark":{"type":"line","color":"black","strokeWidth":1},"encoding":{"detail":{"field":"s"}}},
     {"mark":{"type":"point","filled":true,"fill":"white","stroke":"black","strokeWidth":1,"opacity":1,"size":42},"encoding":{"shape":{"field":"s","type":"nominal","scale":{"domain":["LEFT","RIGHT"],"range":["circle","triangle-up"]},"legend":null}}}
    ]},
   {"data":{"values":[{"t":"R₁:R₂ = 1:9"}]},"mark":{"type":"text","align":"left","baseline":"alphabetic","fontSize":24,"color":"black"},"encoding":{"x":{"datum":22.6},"y":{"datum":1.76},"text":{"field":"t"}}}
  ]},
  {"width":318,"height":227,"layer":[
   {"data":{"values":[{}]},"mark":{"type":"rule","color":"black","strokeWidth":1.3},"encoding":{"x":{"datum":1},"x2":{"datum":40},"y":{"datum":0}}},
   {"data":{"name":"d"},"transform":[{"filter":"datum.p === '1:3'"}],
    "encoding":{"x":{"field":"x","type":"quantitative","scale":{"domain":[0,40],"nice":false},"axis":{"values":[0,10,20,30,40],"labels":false,"title":null}},
                "y":{"field":"y","type":"quantitative","scale":{"domain":[-2,2],"nice":false},"axis":{"values":[-2,-1,0,1,2],"format":"d","title":null,"labelExpr":"replace(datum.label,'\u2212','-')"}}},
    "layer":[
     {"mark":{"type":"line","color":"black","strokeWidth":1},"encoding":{"detail":{"field":"s"}}},
     {"mark":{"type":"point","filled":true,"fill":"white","stroke":"black","strokeWidth":1,"opacity":1,"size":42},"encoding":{"shape":{"field":"s","type":"nominal","scale":{"domain":["LEFT","RIGHT"],"range":["circle","triangle-up"]},"legend":null}}}
    ]},
   {"data":{"values":[{"t":"R₁:R₂ = 1:3"}]},"mark":{"type":"text","align":"left","baseline":"alphabetic","fontSize":24,"color":"black"},"encoding":{"x":{"datum":22.6},"y":{"datum":1.69},"text":{"field":"t"}}}
  ]},
  {"width":318,"height":227,"layer":[
   {"data":{"values":[{}]},"mark":{"type":"rule","color":"black","strokeWidth":1.3},"encoding":{"x":{"datum":1},"x2":{"datum":40},"y":{"datum":0}}},
   {"data":{"name":"d"},"transform":[{"filter":"datum.p === '1:1'"}],
    "encoding":{"x":{"field":"x","type":"quantitative","scale":{"domain":[0,40],"nice":false},"axis":{"values":[0,10,20,30,40],"title":"SUCCESSIVE RESPONSES","titlePadding":17}},
                "y":{"field":"y","type":"quantitative","scale":{"domain":[-2,2],"nice":false},"axis":{"values":[-2,-1,0,1,2],"format":"d","title":null,"labelExpr":"replace(datum.label,'\u2212','-')"}}},
    "layer":[
     {"mark":{"type":"line","color":"black","strokeWidth":1},"encoding":{"detail":{"field":"s"}}},
     {"mark":{"type":"point","filled":true,"fill":"white","stroke":"black","strokeWidth":1,"opacity":1,"size":42},"encoding":{"shape":{"field":"s","type":"nominal","scale":{"domain":["LEFT","RIGHT"],"range":["circle","triangle-up"]},"legend":null}}}
    ]},
   {"data":{"values":[{"t":"R₁:R₂ = 1:1"}]},"mark":{"type":"text","align":"left","baseline":"alphabetic","fontSize":24,"color":"black"},"encoding":{"x":{"datum":22.6},"y":{"datum":1.68},"text":{"field":"t"}}}
  ]}
 ]},
 {"bounds":"flush","spacing":46.7,"vconcat":[
  {"width":318,"height":227,"layer":[
   {"data":{"values":[{}]},"mark":{"type":"rule","color":"black","strokeWidth":1.3},"encoding":{"x":{"datum":1},"x2":{"datum":40},"y":{"datum":0}}},
   {"data":{"name":"d"},"transform":[{"filter":"datum.p === '27:1'"}],
    "encoding":{"x":{"field":"x","type":"quantitative","scale":{"domain":[0,40],"nice":false},"axis":{"values":[0,10,20,30,40],"labels":false,"title":null}},
                "y":{"field":"y","type":"quantitative","scale":{"domain":[-2,2],"nice":false},"axis":{"values":[-2,-1,0,1,2],"labels":false,"title":null}}},
    "layer":[
     {"mark":{"type":"line","color":"black","strokeWidth":1},"encoding":{"detail":{"field":"s"}}},
     {"mark":{"type":"point","filled":true,"fill":"white","stroke":"black","strokeWidth":1,"opacity":1,"size":42},"encoding":{"shape":{"field":"s","type":"nominal","scale":{"domain":["LEFT","RIGHT"],"range":["circle","triangle-up"]},"legend":null}}}
    ]},
   {"data":{"values":[{"t":"R₁:R₂ = 27:1"}]},"mark":{"type":"text","align":"left","baseline":"alphabetic","fontSize":24,"color":"black"},"encoding":{"x":{"datum":23.0},"y":{"datum":1.63},"text":{"field":"t"}}}
  ]},
  {"width":318,"height":227,"layer":[
   {"data":{"values":[{}]},"mark":{"type":"rule","color":"black","strokeWidth":1.3},"encoding":{"x":{"datum":1},"x2":{"datum":40},"y":{"datum":0}}},
   {"data":{"name":"d"},"transform":[{"filter":"datum.p === '9:1'"}],
    "encoding":{"x":{"field":"x","type":"quantitative","scale":{"domain":[0,40],"nice":false},"axis":{"values":[0,10,20,30,40],"labels":false,"title":null}},
                "y":{"field":"y","type":"quantitative","scale":{"domain":[-2,2],"nice":false},"axis":{"values":[-2,-1,0,1,2],"labels":false,"title":null}}},
    "layer":[
     {"mark":{"type":"line","color":"black","strokeWidth":1},"encoding":{"detail":{"field":"s"}}},
     {"mark":{"type":"point","filled":true,"fill":"white","stroke":"black","strokeWidth":1,"opacity":1,"size":42},"encoding":{"shape":{"field":"s","type":"nominal","scale":{"domain":["LEFT","RIGHT"],"range":["circle","triangle-up"]},"legend":null}}}
    ]},
   {"data":{"values":[{"t":"R₁:R₂ = 9:1"}]},"mark":{"type":"text","align":"left","baseline":"alphabetic","fontSize":24,"color":"black"},"encoding":{"x":{"datum":23.0},"y":{"datum":1.76},"text":{"field":"t"}}}
  ]},
  {"width":318,"height":227,"layer":[
   {"data":{"values":[{}]},"mark":{"type":"rule","color":"black","strokeWidth":1.3},"encoding":{"x":{"datum":1},"x2":{"datum":40},"y":{"datum":0}}},
   {"data":{"name":"d"},"transform":[{"filter":"datum.p === '3:1'"}],
    "encoding":{"x":{"field":"x","type":"quantitative","scale":{"domain":[0,40],"nice":false},"axis":{"values":[0,10,20,30,40],"title":"SUCCESSIVE RESPONSES","titlePadding":17}},
                "y":{"field":"y","type":"quantitative","scale":{"domain":[-2,2],"nice":false},"axis":{"values":[-2,-1,0,1,2],"labels":false,"title":null}}},
    "layer":[
     {"mark":{"type":"line","color":"black","strokeWidth":1},"encoding":{"detail":{"field":"s"}}},
     {"mark":{"type":"point","filled":true,"fill":"white","stroke":"black","strokeWidth":1,"opacity":1,"size":42},"encoding":{"shape":{"field":"s","type":"nominal","scale":{"domain":["LEFT","RIGHT"],"range":["circle","triangle-up"]},"legend":null}}}
    ]},
   {"data":{"values":[{"t":"R₁:R₂ = 3:1"}]},"mark":{"type":"text","align":"left","baseline":"alphabetic","fontSize":24,"color":"black"},"encoding":{"x":{"datum":23.0},"y":{"datum":1.69},"text":{"field":"t"}}}
  ]},
  {"width":318,"height":227,
   "data":{"values":[{"s":"LEFT"},{"s":"RIGHT"}]},
   "encoding":{"y":{"field":"s","type":"nominal","scale":{"type":"point","range":[148,179],"padding":0},"axis":null}},
   "layer":[
    {"mark":{"type":"rule","color":"black","strokeWidth":1},"encoding":{"x":{"datum":9.3,"type":"quantitative","scale":{"domain":[0,40],"nice":false},"axis":null},"x2":{"datum":16.35}}},
    {"mark":{"type":"point","filled":true,"fill":"white","stroke":"black","strokeWidth":1,"opacity":1,"size":42},"encoding":{"x":{"datum":12.75,"type":"quantitative"},"shape":{"field":"s","type":"nominal","scale":{"domain":["LEFT","RIGHT"],"range":["circle","triangle-up"]},"legend":null}}},
    {"mark":{"type":"text","align":"left","baseline":"middle","fontSize":24,"color":"black"},"encoding":{"x":{"datum":18.2,"type":"quantitative"},"text":{"field":"s"}}}
   ]}
 ]}
]
}
